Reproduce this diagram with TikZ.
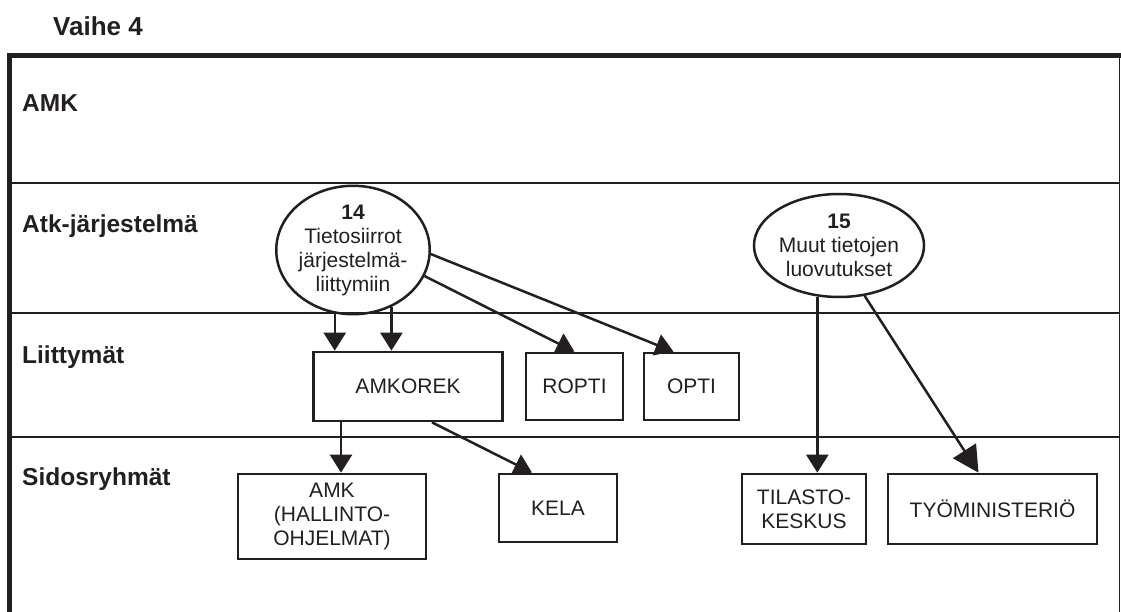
\documentclass[tikz,border=0pt]{standalone}
\usepackage{fontspec}
\setmainfont{Liberation Sans}
\usepackage{tikz}
\usetikzlibrary{arrows.meta,positioning,shapes.geometric}
\definecolor{ink}{RGB}{35,31,32}

\begin{document}
\begin{tikzpicture}[x=1pt,y=-1pt,
	lane/.style={line width=2.2pt,draw=ink},
	lanelabel/.style={anchor=base west,inner sep=0pt,text=ink,font=\fontsize{24.5}{28}\selectfont\bfseries},
	box/.style={draw=ink,text=ink,line width=2.7pt,inner sep=0pt,align=center,font=\fontsize{21}{24}\selectfont},
	task/.style={ellipse,draw=ink,text=ink,line width=2.5pt,inner sep=0pt,align=center,font=\fontsize{21}{24}\selectfont},
	arr/.style={line width=2.5pt,draw=ink,fill=ink,-{Triangle[length=18pt,width=22pt]}},
	bigarr/.style={line width=2.5pt,draw=ink,fill=ink,-{Triangle[length=26pt,width=27pt]}}]
			\useasboundingbox (0,0) rectangle (1121,612);
			% frame and lanes
			\draw[line width=5pt,ink] (7,55.5) -- (1121,55.5);
			\draw[line width=4.5pt,ink] (9.5,53) -- (9.5,612);
			\draw[line width=1.6pt,ink] (1119.5,55) -- (1119.5,612);
			\draw[lane] (9,183) -- (1120,183);
			\draw[lane] (9,313) -- (1120,313);
			\draw[lane] (9,437) -- (1120,437);
			\node[lanelabel,font=\fontsize{26}{30}\selectfont\bfseries] (title) at (53,36) {Vaihe 4};
			\node[lanelabel] (lamk) at (22,112) {AMK};
			\node[lanelabel] (latk) at (22,233) {Atk-järjestelmä};
			\node[lanelabel] (lliit) at (22,363) {Liittymät};
			\node[lanelabel] (lsido) at (22,485) {Sidosryhmät};
			% tasks
			\node[task,minimum width=146pt,minimum height=95pt] (e14) at (353,250) {{\bfseries 14}\\Tietosiirrot\\järjestelmä-\\liittymiin};
			\node[task,minimum width=162pt,minimum height=103pt] (e15) at (839,245.5) {{\bfseries 15}\\Muut tietojen\\luovutukset};
			% interfaces
			\node[box,minimum width=189pt,minimum height=69pt] (amkorek) at (408,386.5) {AMKOREK};
			\node[box,minimum width=97pt,minimum height=67pt] (ropti) at (574.5,386.5) {ROPTI};
			\node[box,minimum width=95pt,minimum height=67pt] (opti) at (691.5,386.5) {OPTI};
			% stakeholders
			\node[box,minimum width=188pt,minimum height=85pt] (amkho) at (332,516.5) {AMK\\(HALLINTO-\\OHJELMAT)};
			\node[box,minimum width=118pt,minimum height=68pt] (kela) at (558,508) {KELA};
			\node[box,minimum width=124pt,minimum height=70pt] (tilasto) at (804,509) {TILASTO-\\KESKUS};
			\node[box,minimum width=209pt,minimum height=70pt] (tyomin) at (992.5,509) {TYÖMINISTERIÖ};
			% connectors
			\draw[arr] (e14.254) -- (e14.254 |- amkorek.north);
			\draw[arr] (e14.304) -- (e14.304 |- amkorek.north);
			\draw[arr] (e14.340) -- (ropti.north);
			\draw[arr] (e14.357) -- ([xshift=-18pt]opti.north);
			\draw[arr] ([xshift=-67pt]amkorek.south) -- ([xshift=-67pt]amkorek.south |- amkho.north);
			\draw[arr] ([xshift=24pt]amkorek.south) -- ([xshift=-26pt]kela.north);
			\draw[arr] (e15.247.5) -- (e15.247.5 |- tilasto.north);
			\draw[bigarr] (e15.297) -- ([xshift=-14pt]tyomin.north);
\end{tikzpicture}
\end{document}
